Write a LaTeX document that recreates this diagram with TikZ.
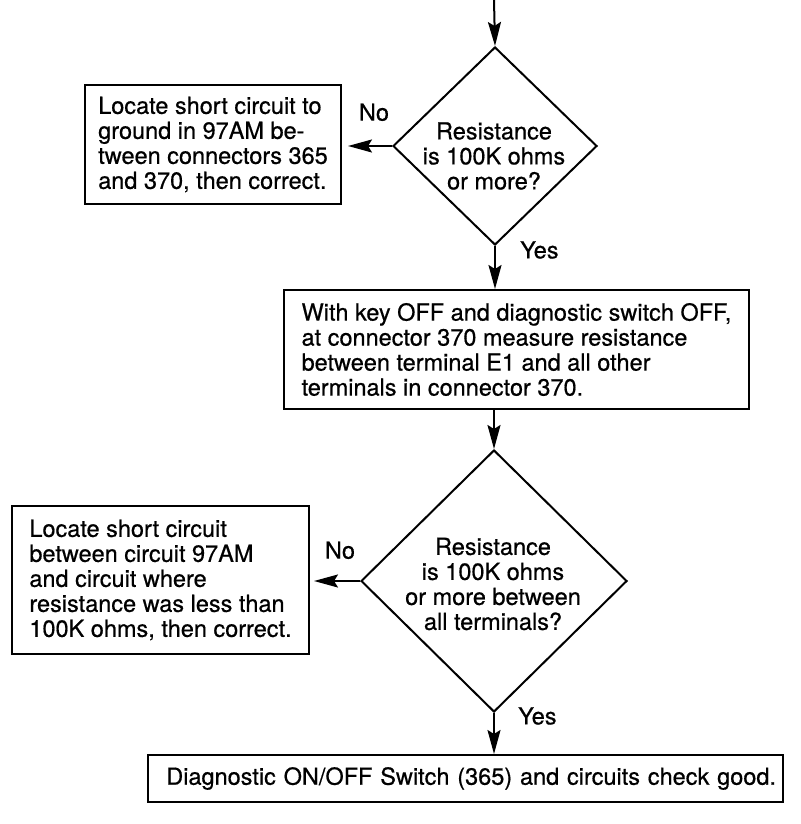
\documentclass[tikz,border=0pt]{standalone}
\usepackage{fontspec}
\setmainfont{TeX Gyre Heros}[FakeBold=0.6]
\usetikzlibrary{shapes.geometric,arrows.meta,positioning}
\newcommand\chartfont{\fontsize{23.5pt}{25pt}\selectfont}

\tikzset{
  flow/.style={line width=2pt, -{Stealth[length=24pt,width=13pt,inset=4pt]}},
  stepbox/.style={draw, line width=2pt, rectangle, align=left, inner sep=0pt, anchor=north west},
  decision/.style={draw, line width=2pt, diamond, inner sep=0pt},
  qtext/.style={align=center, inner sep=0pt},
  lbl/.style={inner sep=0pt},
}

\begin{document}
\begin{tikzpicture}[x=1pt, y=-1pt, font=\chartfont]
   \useasboundingbox (0,0) rectangle (800,824);
   \coordinate (start) at (494,0);

   % first question
   \node[decision, minimum width=204pt, minimum height=198pt] (q1) at (495,146) {};
   \node[qtext] (q1text) at (494,156) {Resistance\\is 100K ohms\\or more?};
   \draw[flow] (start) -- (q1.north);

   \node[stepbox, minimum width=256pt, minimum height=119pt] (b1) at (84,84)
      {Locate short circuit to\\ground in 97AM be-\\tween connectors 365\\and 370, then correct.};
   \draw[flow, shorten >=6pt] (q1.west) -- node[lbl, above=24pt, xshift=7pt] (no1) {No} (q1.west -| b1.east);

   % measure step
   \node[stepbox, minimum width=465pt, minimum height=119pt] (b2) at (283,289)
      {With key OFF and diagnostic switch OFF,\\at connector 370 measure resistance\\between terminal E1 and all other\\terminals in connector 370.};
   \draw[flow] (q1.south) -- (q1.south |- b2.north);
   \node[lbl, right=25pt of q1.south, yshift=-4pt] (yes1) {Yes};

   % second question
   \node[decision, minimum width=266pt, minimum height=262pt] (q2) at (494,581) {};
   \node[qtext] (q2text) at (493,584) {Resistance\\is 100K ohms\\or more between\\all terminals?};
   \draw[flow] (b2.south -| q2.north) -- (q2.north);

   \node[stepbox, minimum width=297pt, minimum height=148pt] (b3) at (11,505)
      {Locate short circuit\\between circuit 97AM\\and circuit where\\resistance was less than\\100K ohms, then correct.};
   \draw[flow, shorten >=4pt] (q2.west) -- node[lbl, above=21pt, xshift=5pt] (no2) {No} (q2.west -| b3.east);

   % result
   \node[stepbox, minimum width=635pt, minimum height=47pt, text width=621pt, align=right] (b4) at (147,754)
      {Diagnostic ON/OFF Switch (365) and circuits check good.};
   \draw[flow] (q2.south) -- (q2.south |- b4.north);
   \node[lbl, right=24pt of q2.south, yshift=-3pt] (yes2) {Yes};

\end{tikzpicture}
\end{document}
